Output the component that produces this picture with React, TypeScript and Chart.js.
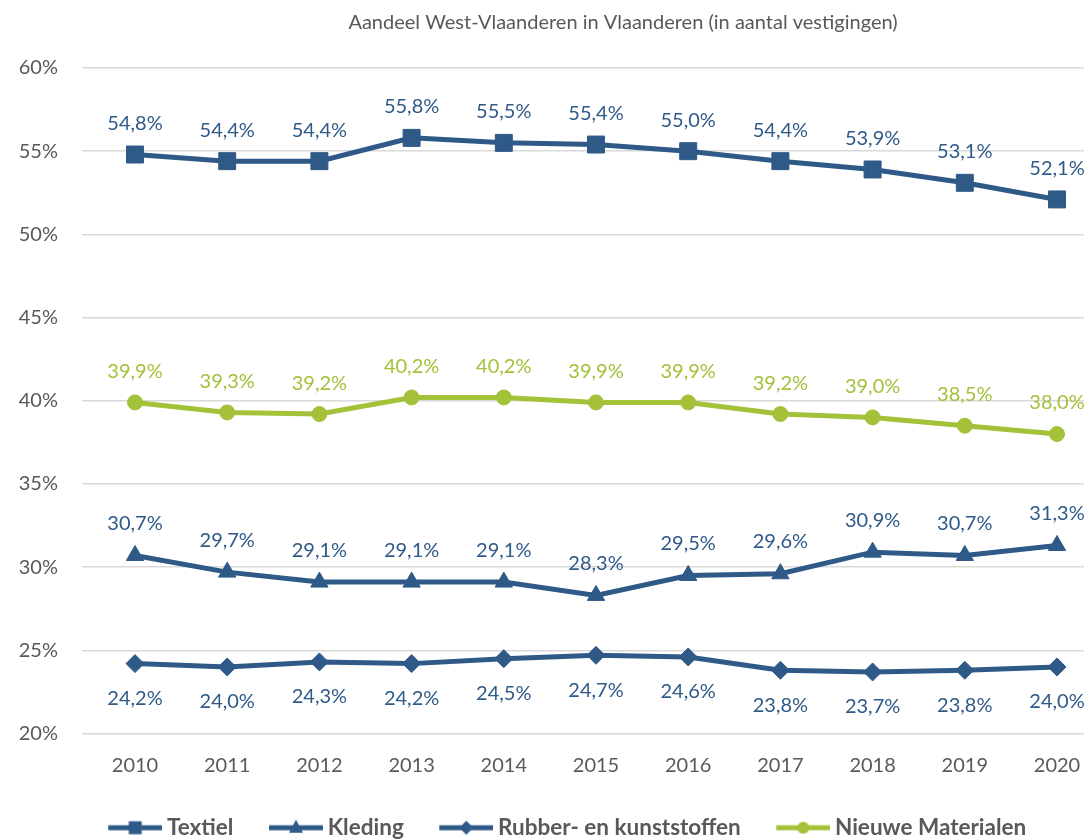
import React, { useEffect, useRef } from "react";
import { Chart, registerables } from "chart.js";

Chart.register(...registerables);

const years = [2010, 2011, 2012, 2013, 2014, 2015, 2016, 2017, 2018, 2019, 2020];
const textiel = [54.8, 54.4, 54.4, 55.8, 55.5, 55.4, 55.0, 54.4, 53.9, 53.1, 52.1];
const kleding = [30.7, 29.7, 29.1, 29.1, 29.1, 28.3, 29.5, 29.6, 30.9, 30.7, 31.3];
const rubber = [24.2, 24.0, 24.3, 24.2, 24.5, 24.7, 24.6, 23.8, 23.7, 23.8, 24.0];
const nieuwe = [39.9, 39.3, 39.2, 40.2, 40.2, 39.9, 39.9, 39.2, 39.0, 38.5, 38.0];
const seriesNames = ["Textiel", "Kleding", "Rubber- en kunststoffen", "Nieuwe Materialen"];
const yTickValues = [20, 25, 30, 35, 40, 45, 50, 55, 60];
const chartTitle = "Aandeel West-Vlaanderen in Vlaanderen (in aantal vestigingen)";

const BLUE = "#2F5A88";
const GREEN = "#A3C139";
const GREY = "#595959";
const FONT = "Lato";

const fmt = (v: number) => v.toFixed(1).replace(".", ",") + "%";

const ICON_W = 59;
const LINE_W = 54;
const LEGEND_SHIFT = 17;

function makeIcon(color: string, style: string): HTMLCanvasElement {
  const c = document.createElement("canvas");
  c.width = ICON_W;
  c.height = 24;
  const g = c.getContext("2d")!;
  const cy = 12;
  const x0 = ICON_W - LINE_W;
  const cx = x0 + LINE_W / 2;
  g.strokeStyle = color;
  g.fillStyle = color;
  g.lineWidth = 5;
  g.beginPath();
  g.moveTo(x0, cy);
  g.lineTo(ICON_W, cy);
  g.stroke();
  g.beginPath();
  if (style === "rect") {
    g.rect(cx - 6.5, cy - 6.5, 13, 13);
  } else if (style === "triangle") {
    g.moveTo(cx, cy - 8);
    g.lineTo(cx + 7, cy + 5);
    g.lineTo(cx - 7, cy + 5);
    g.closePath();
  } else if (style === "rectRot") {
    g.moveTo(cx, cy - 7);
    g.lineTo(cx + 7, cy);
    g.lineTo(cx, cy + 7);
    g.lineTo(cx - 7, cy);
    g.closePath();
  } else {
    g.arc(cx, cy, 6, 0, Math.PI * 2);
  }
  g.fill();
  return c;
}

const valueLabels = {
  id: "valueLabels",
  afterDatasetsDraw(chart: any) {
    const ctx = chart.ctx;
    chart.data.datasets.forEach((ds: any, i: number) => {
      const meta = chart.getDatasetMeta(i);
      ctx.save();
      ctx.font = `20px ${FONT}`;
      ctx.fillStyle = ds.borderColor;
      ctx.textAlign = "center";
      ctx.textBaseline = "middle";
      meta.data.forEach((pt: any, j: number) => {
        ctx.fillText(fmt(ds.data[j].y), pt.x, pt.y + ds.labelOffset);
      });
      ctx.restore();
    });
  },
};

const titleText = {
  id: "titleText",
  afterDraw(chart: any) {
    const ctx = chart.ctx;
    ctx.save();
    ctx.font = `20px ${FONT}`;
    ctx.fillStyle = GREY;
    ctx.textAlign = "center";
    ctx.textBaseline = "middle";
    ctx.fillText(chartTitle, 623, 23);
    ctx.restore();
  },
};

const legendShift = {
  id: "legendShift",
  afterLayout(chart: any) {
    if (chart.legend) {
      chart.legend.left += LEGEND_SHIFT;
      chart.legend.right += LEGEND_SHIFT;
    }
  },
};

export default function App() {
  const ref = useRef<HTMLCanvasElement | null>(null);

  useEffect(() => {
    if (!ref.current) return;
    const series = [
      { name: seriesNames[0], values: textiel, color: BLUE, style: "rect", radius: 12, offset: -31 },
      { name: seriesNames[1], values: kleding, color: BLUE, style: "triangle", radius: 10, offset: -32 },
      { name: seriesNames[2], values: rubber, color: BLUE, style: "rectRot", radius: 9, offset: 35 },
      { name: seriesNames[3], values: nieuwe, color: GREEN, style: "circle", radius: 7.5, offset: -31 },
    ];
    const icons = series.map((s) => makeIcon(s.color, s.style));

    const chart = new Chart(ref.current, {
      type: "line",
      data: {
        datasets: series.map((s) => ({
          label: s.name,
          data: years.map((x, j) => ({ x, y: s.values[j] })),
          borderColor: s.color,
          backgroundColor: s.color,
          pointBackgroundColor: s.color,
          pointBorderColor: s.color,
          pointBorderWidth: 1,
          pointStyle: s.style,
          pointRadius: s.radius,
          borderWidth: 5,
          tension: 0,
          fill: false,
          clip: false,
          labelOffset: s.offset,
        })) as any,
      },
      options: {
        animation: false,
        responsive: false,
        layout: { autoPadding: false, padding: { left: 18, right: 0, top: 68, bottom: 0 } },
        plugins: {
          tooltip: { enabled: false },
          title: { display: false },
          legend: {
            position: "bottom",
            labels: {
              usePointStyle: true,
              pointStyleWidth: ICON_W - 13,
              padding: 37,
              color: GREY,
              font: { family: FONT, size: 22.5, weight: "bold" },
              generateLabels: () =>
                series.map((s, i) => ({
                  text: s.name,
                  pointStyle: icons[i] as any,
                  fillStyle: s.color,
                  strokeStyle: s.color,
                  lineWidth: 0,
                  hidden: false,
                  datasetIndex: i,
                  fontColor: GREY,
                })),
            },
          },
        },
        scales: {
          x: {
            type: "linear",
            min: 2009.425,
            max: 2020.293,
            grid: { display: false, drawTicks: false },
            border: { display: false },
            ticks: {
              color: GREY,
              font: { family: FONT, size: 20, lineHeight: "64px" },
              padding: 0,
              autoSkip: false,
              maxRotation: 0,
              callback: (v: any) => String(v),
            },
            afterBuildTicks: (axis: any) => {
              axis.ticks = years.map((v) => ({ value: v }));
            },
            afterFit: (s: any) => {
              s.height = 46;
              s.paddingLeft = 0;
              s.paddingRight = 0;
            },
          },
          y: {
            type: "linear",
            min: 20,
            max: 60,
            grid: { color: "#D9D9D9", lineWidth: 1.5, drawTicks: false },
            border: { display: false },
            ticks: {
              color: GREY,
              font: { family: FONT, size: 20 },
              padding: 24,
              callback: (v: any) => v + "%",
            },
            afterBuildTicks: (axis: any) => {
              axis.ticks = yTickValues.map((v) => ({ value: v }));
            },
            afterFit: (s: any) => {
              s.width = 64;
            },
          },
        },
      },
      plugins: [valueLabels, titleText, legendShift],
    });
    return () => chart.destroy();
  }, []);

  return (
    <canvas
      ref={ref}
      width={1084}
      height={849}
      style={{ position: "fixed", left: 0, top: 0, display: "block" }}
    />
  );
}
